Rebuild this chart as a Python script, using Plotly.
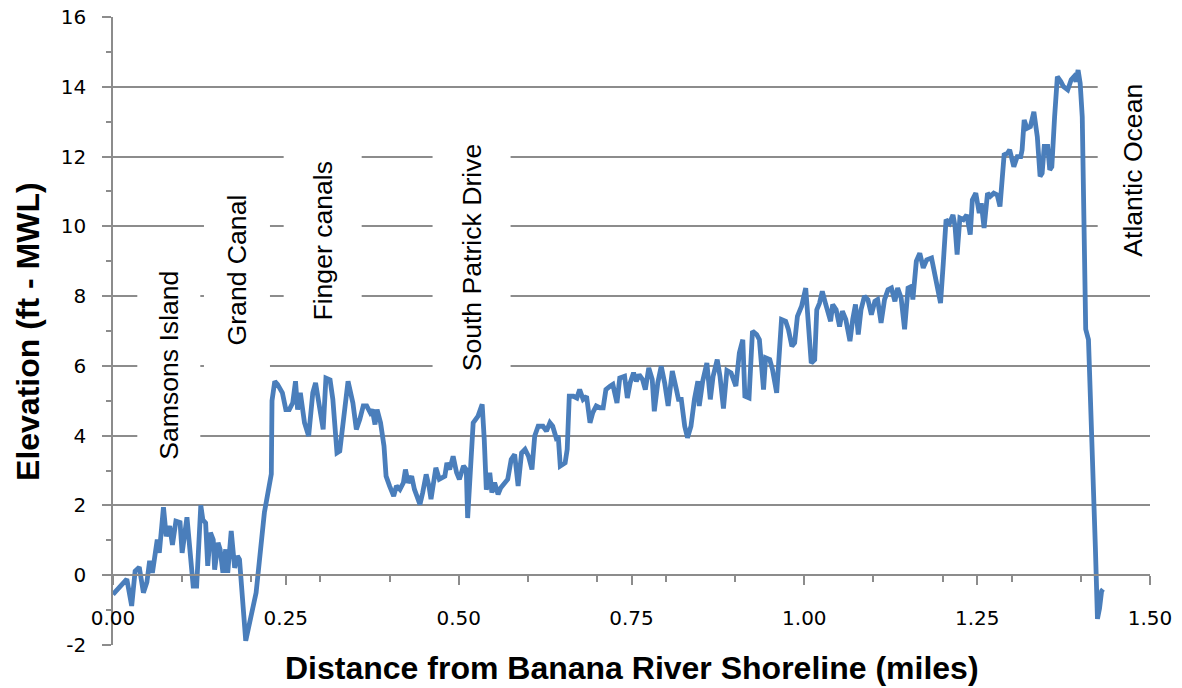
import plotly.graph_objects as go

# Ground profile: distance from the Banana River shoreline (miles) and elevation (ft above MWL)
distance_mi = [
    0.000, 0.020, 0.027, 0.032, 0.038, 0.044, 0.049, 0.053, 0.057, 0.061,
    0.064, 0.067, 0.073, 0.077, 0.082, 0.086, 0.091, 0.097, 0.100, 0.107,
    0.111, 0.116, 0.121, 0.127, 0.130, 0.134, 0.137, 0.141, 0.145, 0.147,
    0.152, 0.155, 0.159, 0.163, 0.166, 0.171, 0.176, 0.180, 0.183, 0.187,
    0.192, 0.207, 0.219, 0.229, 0.230, 0.234, 0.238, 0.245, 0.250, 0.255,
    0.260, 0.264, 0.267, 0.271, 0.277, 0.283, 0.289, 0.293, 0.297, 0.304,
    0.308, 0.314, 0.318, 0.324, 0.328, 0.334, 0.340, 0.347, 0.352, 0.357,
    0.362, 0.367, 0.372, 0.375, 0.379, 0.382, 0.387, 0.392, 0.395, 0.400,
    0.406, 0.410, 0.415, 0.420, 0.423, 0.427, 0.432, 0.436, 0.444, 0.448,
    0.453, 0.457, 0.460, 0.467, 0.472, 0.480, 0.483, 0.487, 0.492, 0.497,
    0.501, 0.507, 0.511, 0.513, 0.517, 0.521, 0.528, 0.534, 0.537, 0.540,
    0.545, 0.548, 0.552, 0.557, 0.561, 0.571, 0.576, 0.581, 0.586, 0.591,
    0.596, 0.601, 0.606, 0.610, 0.615, 0.622, 0.627, 0.632, 0.636, 0.641,
    0.644, 0.647, 0.654, 0.657, 0.660, 0.666, 0.671, 0.675, 0.680, 0.685,
    0.690, 0.694, 0.699, 0.704, 0.709, 0.713, 0.719, 0.723, 0.729, 0.733,
    0.740, 0.744, 0.748, 0.753, 0.757, 0.761, 0.766, 0.770, 0.775, 0.780,
    0.783, 0.788, 0.793, 0.798, 0.803, 0.809, 0.815, 0.818, 0.822, 0.827,
    0.831, 0.836, 0.841, 0.846, 0.848, 0.853, 0.859, 0.864, 0.868, 0.874,
    0.878, 0.883, 0.888, 0.894, 0.901, 0.906, 0.911, 0.914, 0.920, 0.925,
    0.931, 0.935, 0.941, 0.944, 0.950, 0.954, 0.960, 0.964, 0.967, 0.973,
    0.977, 0.982, 0.986, 0.990, 0.996, 1.002, 1.005, 1.010, 1.015, 1.018,
    1.022, 1.026, 1.031, 1.038, 1.041, 1.046, 1.051, 1.055, 1.060, 1.066,
    1.070, 1.074, 1.078, 1.082, 1.087, 1.092, 1.097, 1.102, 1.106, 1.111,
    1.116, 1.121, 1.126, 1.131, 1.135, 1.140, 1.145, 1.150, 1.155, 1.157,
    1.162, 1.167, 1.172, 1.177, 1.184, 1.189, 1.194, 1.197, 1.201, 1.205,
    1.210, 1.215, 1.218, 1.221, 1.225, 1.230, 1.235, 1.240, 1.243, 1.248,
    1.253, 1.256, 1.260, 1.265, 1.269, 1.274, 1.279, 1.283, 1.289, 1.294,
    1.297, 1.303, 1.308, 1.313, 1.315, 1.318, 1.322, 1.327, 1.332, 1.337,
    1.341, 1.344, 1.347, 1.352, 1.355, 1.358, 1.362, 1.366, 1.371, 1.375,
    1.381, 1.386, 1.390, 1.393, 1.396, 1.399, 1.402, 1.404, 1.407, 1.411,
    1.414, 1.421, 1.424, 1.427, 1.430, 1.432,
]
elevation_ft = [
    -0.55, -0.11, -0.88, 0.12, 0.23, -0.50, -0.20, 0.41, 0.07, 0.55,
    1.02, 0.64, 1.95, 1.12, 1.41, 0.87, 1.55, 1.51, 0.64, 1.66,
    0.84, -0.31, -0.31, 2.00, 1.59, 1.50, 0.27, 1.22, 1.02, 0.16,
    0.93, 0.74, 0.07, 0.74, 0.07, 1.27, 0.21, 0.55, 0.45, -0.50,
    -1.88, -0.50, 1.80, 2.90, 5.00, 5.56, 5.47, 5.23, 4.75, 4.75,
    4.94, 5.56, 4.75, 5.23, 4.37, 3.99, 5.23, 5.51, 5.04, 4.18,
    5.65, 5.60, 5.04, 3.51, 3.56, 4.66, 5.56, 4.94, 4.18, 4.47,
    4.85, 4.85, 4.66, 4.75, 4.32, 4.75, 4.37, 3.70, 2.84, 2.56,
    2.27, 2.56, 2.46, 2.65, 3.03, 2.65, 2.84, 2.46, 2.03, 2.37,
    2.89, 2.56, 2.18, 3.08, 2.75, 2.84, 3.22, 3.03, 3.41, 2.94,
    2.75, 3.13, 3.03, 1.64, 2.84, 4.37, 4.56, 4.90, 3.89, 2.45,
    2.94, 2.37, 2.65, 2.32, 2.51, 2.75, 3.32, 3.46, 2.56, 3.51,
    3.61, 3.41, 3.03, 3.99, 4.27, 4.27, 4.13, 4.37, 4.27, 3.94,
    3.99, 3.13, 3.22, 3.61, 5.13, 5.13, 5.08, 5.32, 5.04, 5.13,
    4.37, 4.66, 4.85, 4.80, 4.80, 5.32, 5.42, 5.47, 4.94, 5.65,
    5.70, 5.08, 5.51, 5.80, 5.56, 5.75, 5.61, 5.32, 5.94, 5.61,
    4.70, 5.51, 5.99, 5.51, 4.85, 5.85, 5.32, 5.04, 5.04, 4.27,
    3.94, 4.27, 5.04, 5.56, 4.85, 5.56, 6.08, 5.04, 5.70, 6.18,
    5.70, 4.78, 5.87, 5.80, 5.42, 6.37, 6.75, 5.13, 5.08, 7.00,
    6.90, 6.75, 5.32, 6.23, 6.18, 5.89, 5.23, 6.75, 7.33, 7.28,
    7.04, 6.56, 6.66, 7.42, 7.71, 8.23, 7.42, 6.08, 6.18, 7.61,
    7.80, 8.14, 7.76, 7.28, 7.76, 7.61, 7.13, 7.57, 7.33, 6.71,
    7.33, 7.76, 6.90, 7.61, 8.00, 7.90, 7.47, 7.85, 7.90, 7.23,
    7.90, 8.18, 8.23, 7.85, 8.23, 7.95, 7.05, 8.23, 8.28, 7.90,
    9.00, 9.23, 8.81, 9.04, 9.09, 8.57, 8.00, 7.80, 8.95, 10.19,
    10.09, 10.33, 10.00, 9.19, 10.24, 10.19, 10.33, 9.76, 10.76, 10.95,
    10.38, 10.66, 9.95, 10.95, 10.86, 10.95, 10.90, 10.57, 12.05, 12.10,
    12.19, 11.71, 12.00, 12.00, 12.19, 13.05, 12.81, 12.86, 13.28, 12.57,
    11.43, 11.52, 12.29, 12.29, 11.62, 11.71, 13.14, 14.29, 14.15, 14.00,
    13.91, 14.20, 14.29, 14.15, 14.48, 14.10, 13.14, 10.28, 7.05, 6.75,
    5.19, 0.79, -1.25, -0.95, -0.45, -0.40,
]

# Landmarks along the transect: label, distance (mi), elevation (ft) of the label centre,
# and the white label box size (along the text, across the text) in px
landmark_names = ["Samsons Island", "Grand Canal", "Finger canals",
                  "South Patrick Drive", "Atlantic Ocean"]
landmark_x = [0.081, 0.179, 0.303, 0.519, 1.475]
landmark_y = [6.02, 8.74, 9.60, 9.10, 11.60]
landmark_box_along = [220, 200, 200, 262, 212]
landmark_box_across = [62, 65, 77, 77, 70]

x_ticks = [0.0, 0.25, 0.5, 0.75, 1.0, 1.25, 1.5]
y_ticks = [-2, 0, 2, 4, 6, 8, 10, 12, 14, 16]
y_tick_labels = ["-2", "0", "2", "4", "6", "8", "10", "12", "14", "16"]

GRID = "#8c8c8c"
LINE_BLUE = "#4a7ebb"
ARIAL = "Arial, Liberation Sans, sans-serif"
TICK_FONT = dict(family="Verdana, DejaVu Sans, sans-serif", size=20, color="#000000")

fig = go.Figure()
fig.add_trace(go.Scatter(
    x=distance_mi, y=elevation_ft, mode="lines",
    line=dict(color=LINE_BLUE, width=4.8, shape="linear"),
    showlegend=False, hoverinfo="x+y",
))

annotations = []
for name, lx, ly, along, across in zip(landmark_names, landmark_x, landmark_y,
                                       landmark_box_along, landmark_box_across):
    annotations.append(dict(
        x=lx, y=ly, xref="x", yref="y", text=name, showarrow=False,
        textangle=-90, xanchor="center", yanchor="middle",
        width=along, height=across, align="center", valign="middle",
        bgcolor="#ffffff", borderpad=0,
        font=dict(family=ARIAL, size=26.6, color="#000000"),
    ))

# Axis titles
annotations.append(dict(
    x=0.5, y=-0.0366, xref="paper", yref="paper", showarrow=False,
    text="<b>Distance from Banana River Shoreline (miles)</b>",
    xanchor="center", yanchor="middle",
    font=dict(family=ARIAL, size=32, color="#000000"),
))
annotations.append(dict(
    x=-0.082, y=0.5, xref="paper", yref="paper", showarrow=False,
    text="<b>Elevation (ft - MWL)</b>", textangle=-90,
    xanchor="center", yanchor="middle",
    font=dict(family=ARIAL, size=32, color="#000000"),
))

fig.update_layout(
    width=1182, height=688,
    margin=dict(l=113, r=32, t=17, b=43, pad=0),
    paper_bgcolor="#ffffff", plot_bgcolor="#ffffff",
    annotations=annotations,
    xaxis=dict(
        range=[0, 1.5], tickvals=x_ticks, tickformat=".2f",
        anchor="free", position=2 / 18,
        showline=True, linecolor=GRID, linewidth=1.6,
        ticks="outside", ticklen=9, tickwidth=1.6, tickcolor=GRID,
        minor=dict(dtick=0.1, tick0=0, ticks="outside", ticklen=6,
                   tickwidth=1.6, tickcolor=GRID, showgrid=False),
        showgrid=False, zeroline=False, automargin=False,
        tickfont=TICK_FONT, ticklabelstandoff=16,
    ),
    yaxis=dict(
        range=[-2, 16], tickvals=y_ticks, ticktext=y_tick_labels,
        showline=True, linecolor=GRID, linewidth=1.6,
        ticks="outside", ticklen=9, tickwidth=1.6, tickcolor=GRID,
        minor=dict(dtick=1, tick0=0, ticks="outside", ticklen=5,
                   tickwidth=1.6, tickcolor=GRID, showgrid=False),
        showgrid=True, gridcolor=GRID, gridwidth=1.6,
        zeroline=False, automargin=False,
        tickfont=TICK_FONT, ticklabelstandoff=12,
    ),
)

fig.write_html("out.html")
